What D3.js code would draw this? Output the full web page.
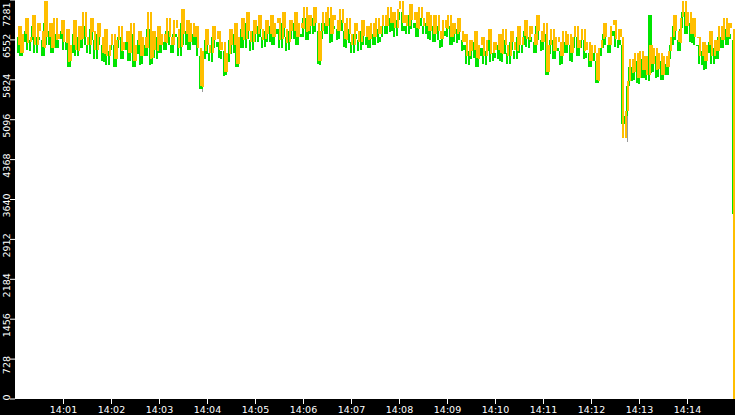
<!DOCTYPE html>
<html>
<head>
<meta charset="utf-8">
<script src="https://cdn.jsdelivr.net/npm/d3@7"></script>
<style>
  body { margin: 0; background: #000; }
  svg { display: block; }
  .tick text { font-family: "DejaVu Sans", sans-serif; font-size: 9.5px; fill: #fff; }
  .tick line { stroke: #fff; }
</style>
</head>
<body>
<div id="chart"></div>
<script>
// chart size
var svgWidth = 735;
var svgHeight = 415;
var plot = { left: 15, top: 0, right: 735, bottom: 399 };

// one sample every 3 seconds from 14:00:00
var startTime = "14:00";
var endTime = "14:15";
var bucketSeconds = 3;

// ask (orange)
var askValues = [
  6450, 6800, 6300, 6650,
  6950, 6500, 6600, 7000, 6450, 6850, 6700, 6400,
  7250,
  6600, 6850, 6400, 6950, 6550, 6650, 6900, 6500,
  6750, 6150, 6450, 6900, 6350, 6800, 6550,
  7050, 6600, 6450, 6950, 6700, 6350, 6850, 6600,
  6300, 6750, 6250, 6450, 6650, 6200, 6550, 6800, 6350, 6500,
  6700, 6300, 6850, 6150, 6450, 6700, 6250, 6600, 6400,
  7050, 6200, 6700, 6350, 6800, 6450, 6650,
  6500, 6950, 6600, 6450, 6900, 6750, 6400, 7100, 6650, 6900, 6500, 6850, 6600,
  6800, 6400,
  5700,
  6350, 6750, 6450, 6300, 6800, 6550, 6700, 6350,
  6500, 5950, 6300,
  6750, 6450, 6850, 6100, 6600,
  6950, 6550, 7050, 6700, 6500, 6900, 6650, 7000, 6750, 6550, 6900,
  6650, 7000, 6600, 6850, 6950, 6550, 7050, 6750, 6500, 6900, 6700, 7050, 6600, 6850,
  6750, 7150, 6700, 7000, 6800, 7150, 6850,
  6150,
  6700, 7050, 6800, 7150, 6650, 7000, 6900, 6700, 7100, 6850,
  6550, 6950, 6650, 6450, 6850, 6700, 6500, 6900, 6600, 6800, 6550,
  6850, 6600, 6950, 6650, 6800, 7000,
  6800, 7150, 6850, 7050, 6750, 7100, 7250, 6850, 7000, 6800, 7200, 6900, 7050, 6750, 7150, 6950, 6800, 7050, 6700, 7000,
  6650, 7000, 6700, 6550, 6900, 6750, 7000, 6600, 6850, 6650, 6950, 6700, 6500,
  6650, 6250, 6550, 6350, 6700, 6200, 6450, 6600, 6250, 6550, 6750, 6300, 6500, 6350,
  6650, 6300, 6750, 6450, 6250, 6700, 6500, 6350, 6800, 6450,
  6600, 6900, 6550, 6800, 6650, 6450, 7000, 6700, 6500, 6850,
  5950,
  6450, 6750, 6350, 6600, 6500, 6250, 6700, 6450, 6650, 6300, 6600, 6800, 6400, 6550, 6750, 6350,
  6500, 6150, 6450, 6300, 5800, 6400,
  6550, 6850, 6600, 6450, 6800, 6900, 6550, 6750, 6600,
  4750,
  5250,
  5800, 6200, 5950, 6300, 5850, 6350, 6000, 6250, 5900,
  6450, 6100, 6400,
  6000, 6300, 5900, 6250, 6050, 6350,
  6600, 7000, 6700, 6500, 6950, 7250, 6800, 7050, 6650, 6950, 6600,
  6600, 6250, 6500, 6150, 6450, 6700, 6250, 6550, 6350,
  6800, 6550, 6950, 6600, 6850, 6750,
  0
];

// bid (green)
var bidValues = [
  6300, 6600, 6250, 6500,
  6700, 6350, 6550, 6800, 6300, 6600, 6550, 6250,
  6850,
  6450, 6700, 6300, 6650, 6400, 6550, 6700, 6350,
  6500, 6050, 6300, 6650, 6250, 6600, 6400,
  6800, 6450, 6300, 6750, 6550, 6200, 6650, 6450,
  6150, 6550, 6100, 6350, 6450, 6050, 6400, 6600, 6200, 6350,
  6500, 6150, 6650, 6050, 6300, 6550, 6100, 6450, 6250,
  6750, 6100, 6500, 6200, 6600, 6300, 6500,
  6350, 6700, 6450, 6300, 6650, 6600, 6250, 6850, 6450, 6700, 6350, 6650, 6450,
  6600, 6250,
  5650,
  6200, 6550, 6300, 6150, 6600, 6400, 6500, 6200,
  6350, 5900, 6150,
  6550, 6300, 6650, 6050, 6400,
  6750, 6400, 6850, 6550, 6350, 6700, 6500, 6800, 6600, 6400, 6700,
  6500, 6800, 6450, 6650, 6750, 6400, 6850, 6600, 6350, 6700, 6550, 6850, 6450, 6650,
  6600, 6950, 6550, 6800, 6650, 6950, 6700,
  6100,
  6550, 6850, 6650, 6950, 6500, 6800, 6750, 6550, 6900, 6700,
  6400, 6750, 6500, 6300, 6650, 6550, 6350, 6700, 6450, 6600, 6400,
  6650, 6450, 6750, 6500, 6600, 6800,
  6650, 6950, 6700, 6850, 6600, 6900, 7050, 6700, 6800, 6650, 7000, 6750, 6850, 6600, 6950, 6800, 6650, 6850, 6550, 6800,
  6500, 6800, 6550, 6400, 6700, 6600, 6800, 6450, 6650, 6500, 6750, 6550, 6350,
  6450, 6100, 6350, 6200, 6500, 6050, 6250, 6400, 6100, 6350, 6550, 6150, 6300, 6200,
  6450, 6150, 6550, 6300, 6100, 6500, 6350, 6200, 6600, 6300,
  6450, 6700, 6400, 6600, 6500, 6300, 6800, 6550, 6350, 6650,
  5900,
  6300, 6550, 6200, 6400, 6350, 6100, 6500, 6300, 6450, 6150, 6400, 6600, 6250, 6400, 6550, 6200,
  6300, 6050, 6300, 6150, 5750, 6250,
  6400, 6650, 6450, 6300, 6600, 6700, 6400, 6550, 6450,
  5000,
  5150,
  5700, 6050, 5800, 6150, 5750, 6200, 5850, 6100, 5800,
  7000, 5950, 6250,
  5850, 6150, 5800, 6100, 5900, 6200,
  6450, 6800, 6550, 6350, 6750, 7050, 6650, 6850, 6500, 6750, 6450,
  6450, 6100, 6350, 6000, 6300, 6500, 6100, 6400, 6200,
  6600, 6400, 6750, 6450, 6650, 6550,
  3370
];

// grey high/low wicks on a few samples
var wickIndex = [77, 254];
var wickLow = [5600, 4680];
var wickHigh = [6050, 5300];

// axis ticks
var yTickValues = [0, 728.1, 1456.2, 2184.3, 2912.4, 3640.5, 4368.6, 5096.7, 5824.8, 6552.9, 7281];
var yTickLabels = ["0", "728", "1456", "2184", "2912", "3640", "4368", "5096", "5824", "6552", "7281"];
var xTickLabels = ["14:01", "14:02", "14:03", "14:04", "14:05", "14:06", "14:07",
  "14:08", "14:09", "14:10", "14:11", "14:12", "14:13", "14:14"];

var parseTime = d3.timeParse("%H:%M");
var t0 = parseTime(startTime);

var svg = d3.select("#chart")
  .append("svg")
  .attr("width", svgWidth)
  .attr("height", svgHeight);

svg.append("rect")
  .attr("width", svgWidth)
  .attr("height", svgHeight)
  .attr("fill", "#000");

svg.append("rect")
  .attr("x", plot.left)
  .attr("y", plot.top)
  .attr("width", plot.right - plot.left)
  .attr("height", plot.bottom - plot.top)
  .attr("fill", "#fff");

var xScale = d3.scaleTime()
  .domain([t0, parseTime(endTime)])
  .range([plot.left, plot.right]);

var yScale = d3.scaleLinear()
  .domain([0, 7281])
  .range([398.5, -0.5]);

function sampleTime(i) {
  return d3.timeSecond.offset(t0, i * bucketSeconds + 2);
}

// whole pixel column for a sample
function col(i) {
  return Math.floor(xScale(sampleTime(i)));
}

// each sample draws the move from the previous value as a 2px bar
function segments(values) {
  var out = [];
  for (var i = 1; i < values.length; i++) {
    out.push({ i: i, a: values[i - 1], b: values[i] });
  }
  return out;
}

var marks = svg.append("g").attr("shape-rendering", "crispEdges");

marks.selectAll(".wick")
  .data(wickIndex)
  .enter()
  .append("rect")
  .attr("class", "wick")
  .attr("x", d => col(d) + 1)
  .attr("width", 1)
  .attr("y", (d, k) => yScale(wickHigh[k]))
  .attr("height", (d, k) => yScale(wickLow[k]) - yScale(wickHigh[k]))
  .attr("fill", "#9a9a9a");

// shift: green bars sit one pixel left of the orange ones
function drawSeries(cls, values, colour, shift) {
  marks.selectAll("." + cls)
    .data(segments(values))
    .enter()
    .append("rect")
    .attr("class", cls)
    .attr("x", d => Math.min(col(d.i) - 1, plot.right - 2) + shift)
    .attr("width", 2)
    .attr("y", d => Math.round(yScale(Math.max(d.a, d.b))))
    .attr("height", d => Math.max(1, Math.round(Math.abs(yScale(d.a) - yScale(d.b)))))
    .attr("fill", colour);
}

drawSeries("bid", bidValues, "#00e400", -1);
drawSeries("ask", askValues, "#ffbe00", 0);

// x axis
var xAxis = d3.axisBottom(xScale)
  .tickValues(xTickLabels.map(parseTime))
  .tickFormat((d, k) => xTickLabels[k])
  .tickSize(5);

var xg = svg.append("g")
  .attr("transform", `translate(0, ${plot.bottom})`)
  .call(xAxis);
xg.select(".domain").remove();
xg.selectAll(".tick text").attr("y", 7);

// y axis, labels turned on their side
var yAxis = d3.axisLeft(yScale)
  .tickValues(yTickValues)
  .tickFormat((d, k) => yTickLabels[k])
  .tickSize(5);

var yg = svg.append("g")
  .attr("transform", `translate(${plot.left}, 0)`)
  .call(yAxis);
yg.select(".domain").remove();

yg.selectAll(".tick text")
  .attr("text-anchor", "middle")
  .attr("dy", null)
  .attr("transform", "rotate(-90)")
  .attr("y", -5.5)
  .attr("x", function(d) {
    var half = this.getComputedTextLength() / 2;
    var centre = yScale(d) + 6;
    centre = Math.max(half + 2, Math.min(400 - half, centre));
    // tick group is already at yScale(d)
    return -(centre - yScale(d));
  });
</script>
</body>
</html>
